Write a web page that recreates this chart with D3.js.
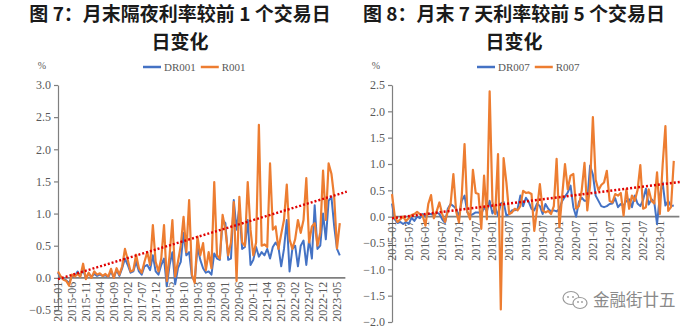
<!DOCTYPE html>
<html><head><meta charset="utf-8">
<script src="https://cdn.jsdelivr.net/npm/d3@7"></script>
<style>
html,body{margin:0;padding:0;background:#fff;}
svg{display:block;}
</style>
</head><body>
<svg id="chart" width="700" height="330"></svg>
<script>
// ---- categories ----
const months = d3.timeMonth.range(new Date(2015,0,1), new Date(2023,6,1)).map(d3.timeFormat("%Y-%m"));

// ---- left chart: overnight ----
const titleLeft = ["图 7：月末隔夜利率较前 1 个交易日", "日变化"];
const DR001 = [0.08,0.00,-0.02,-0.04,-0.08,0.03,0.02,0.10,0.03,0.12,0.00,0.07,0.02,0.06,0.03,0.05,0.03,0.04,0.01,0.10,
  0.00,0.12,0.03,0.15,0.30,0.20,0.08,0.10,0.25,0.10,0.05,0.18,0.20,0.12,0.35,0.10,0.05,0.20,0.30,-0.13,
  0.20,0.40,-0.10,0.15,0.25,0.70,0.35,0.40,0.02,-0.05,0.48,0.28,0.15,0.08,0.10,0.05,0.38,0.30,0.28,0.90,
  0.85,0.28,0.30,1.21,0.75,1.10,0.45,0.48,0.90,0.20,0.28,0.48,0.33,0.40,0.35,0.45,0.30,0.48,0.55,0.48,
  0.18,0.45,0.90,0.10,0.45,0.50,0.18,0.50,0.58,0.20,0.60,0.30,1.13,0.45,0.50,1.00,0.60,1.20,1.26,0.80,
  0.45,0.35];
const R001 = [0.10,0.02,-0.03,-0.05,-0.12,0.05,0.02,0.06,0.02,0.22,-0.02,0.08,0.00,0.10,0.05,0.07,0.03,0.06,0.02,0.14,
  0.00,0.15,0.05,0.18,0.45,0.28,0.10,0.12,0.36,0.15,0.08,0.25,0.40,0.20,0.82,0.25,0.10,0.30,0.82,-0.05,
  0.35,0.90,0.02,0.25,0.50,0.95,0.40,1.21,0.05,-0.08,0.64,0.35,0.54,0.12,0.40,0.15,1.49,0.35,0.30,0.98,
  0.75,0.35,0.55,1.18,-0.05,1.26,0.55,0.50,1.49,0.75,0.35,0.55,2.38,0.50,0.52,0.48,1.78,0.75,0.80,0.45,
  0.68,0.90,1.45,0.60,0.45,0.60,0.90,0.70,0.90,1.55,0.55,0.80,0.85,0.50,0.70,1.67,0.90,1.78,1.62,1.25,
  0.46,0.85];
// trend line (linear, as drawn in the picture): [month index, value] at both ends
const trendLeft = [[0, -0.02], [103.5, 1.34]];
const yTicksLeft = [-0.5,0,0.5,1.0,1.5,2.0,2.5,3.0];
const xTicksLeft = ["2015-01","2015-06","2015-11","2016-04","2016-09","2017-02","2017-07","2017-12","2018-05","2018-10",
  "2019-03","2019-08","2020-01","2020-06","2020-11","2021-04","2021-09","2022-02","2022-07","2022-12","2023-05"];

// ---- right chart: 7-day ----
const titleRight = ["图 8：月末 7 天利率较前 5 个交易日", "日变化"];
const DR007 = [0.25,-0.05,-0.12,-0.10,-0.14,-0.10,-0.14,-0.02,-0.08,0.00,-0.03,0.05,0.00,0.05,0.05,0.03,0.08,0.05,-0.05,-0.12,
  0.15,0.24,0.20,0.15,0.00,0.30,0.40,0.08,0.02,0.05,0.08,0.08,0.05,0.18,0.10,0.30,0.06,0.18,0.02,0.25,
  0.28,0.02,0.05,0.12,0.12,0.14,0.40,0.20,0.36,0.28,0.15,0.12,0.25,0.20,0.05,0.24,0.15,0.10,0.12,0.10,
  0.15,0.30,0.38,0.46,0.59,0.18,0.00,0.28,0.36,0.30,0.30,0.97,0.80,0.40,0.30,0.20,0.18,0.20,0.24,0.25,
  0.35,0.18,0.24,0.21,0.30,0.33,0.18,0.40,0.25,0.20,0.32,0.53,0.23,0.33,0.28,-0.14,0.40,0.65,0.21,0.30,
  0.20,0.21];
const R007 = [0.43,0.00,-0.10,-0.05,0.00,-0.08,-0.03,0.03,0.05,0.09,0.05,0.02,-0.17,0.24,0.41,-0.03,0.10,0.27,0.05,-0.10,
  0.10,0.24,0.81,0.10,-0.11,0.40,1.38,0.10,-0.05,0.89,0.45,0.43,-0.23,0.78,-0.05,2.38,0.28,0.05,1.19,-1.76,
  1.11,0.65,0.05,0.08,0.15,0.12,0.20,0.49,0.45,0.46,0.43,-0.27,0.15,0.62,0.12,0.08,0.11,0.05,0.20,1.10,
  -0.20,0.40,1.00,0.52,0.78,0.81,0.15,0.20,0.50,1.02,0.12,0.60,1.89,0.70,0.50,0.60,0.65,0.87,0.30,0.27,
  0.43,0.40,0.45,0.02,0.52,0.15,0.40,0.30,0.50,0.98,0.15,0.18,0.52,0.30,0.25,0.84,0.05,0.98,1.72,0.11,
  0.18,1.06];
const trendRight = [[0, -0.03], [103.5, 0.66]];
const yTicksRight = [-2.0,-1.5,-1.0,-0.5,0,0.5,1.0,1.5,2.0,2.5];
const xTicksRight = ["2015-01","2015-07","2016-01","2016-07","2017-01","2017-07","2018-01","2018-07","2019-01","2019-07",
  "2020-01","2020-07","2021-01","2021-07","2022-01","2022-07","2023-01"];

const watermark = "金融街廿五";

// ---- drawing ----
const svg = d3.select("#chart");
const BLUE = "#4472C4", ORANGE = "#ED7D31", RED = "#E00000", GREY = "#595959";
const SERIF = "'Liberation Serif','Times New Roman',serif";
const CJK = "'Noto Sans CJK SC','Noto Sans CJK JP',sans-serif";

function drawPanel(cfg) {
  const g = svg.append("g");
  const n = months.length;
  const x = d3.scaleLinear().domain([0, n - 1]).range([cfg.x0, cfg.x1]);
  const y = d3.scaleLinear().domain(cfg.yDomain).range([cfg.yBottom, cfg.yTop]);

  // title
  g.append("g").selectAll("text").data(cfg.title).join("text")
    .attr("x", cfg.titleX).attr("y", (d, i) => 21 + i * 28)
    .attr("text-anchor", "middle")
    .attr("font-family", CJK).attr("font-size", 19).attr("font-weight", 700)
    .attr("fill", "#1a1a1a").text(d => d);

  // % unit
  g.append("text").attr("x", cfg.x0 - 16).attr("y", 69)
    .attr("font-family", SERIF).attr("font-size", 10).attr("fill", GREY)
    .attr("text-anchor", "middle").text("%");

  // y axis
  const ya = g.append("g").attr("transform", `translate(${cfg.x0},0)`)
    .call(d3.axisLeft(y).tickValues(cfg.yTicks).tickSize(4).tickSizeOuter(0).tickFormat(d3.format(".1f")));
  ya.select(".domain").attr("stroke", "#7f7f7f").attr("stroke-width", 1.2);
  ya.selectAll(".tick line").attr("stroke", "#7f7f7f").attr("stroke-width", 1.2);
  ya.selectAll(".tick text").attr("font-family", SERIF).attr("font-size", 12).attr("fill", GREY)
    .text(d => d3.format(".1f")(d).replace("-", "\u2212"));

  // zero line
  g.append("line").attr("x1", cfg.x0).attr("x2", x(n + 1)).attr("y1", y(0)).attr("y2", y(0))
    .attr("stroke", "#7f7f7f").attr("stroke-width", 1.6);

  // x labels
  g.append("g").selectAll("text").data(cfg.xTicks).join("text")
    .attr("transform", d => `translate(${x(months.indexOf(d)) + 4},${y(0) + 4}) rotate(-90)`)
    .attr("text-anchor", "end")
    .attr("font-family", SERIF).attr("font-size", 12).attr("fill", GREY)
    .text(d => d);

  // lines
  const line = d3.line().x((d, i) => x(i)).y(d => y(d));
  g.append("path").datum(cfg.s1).attr("d", line).attr("fill", "none")
    .attr("stroke", BLUE).attr("stroke-width", 2).attr("stroke-linejoin", "round");
  g.append("path").datum(cfg.s2).attr("d", line).attr("fill", "none")
    .attr("stroke", ORANGE).attr("stroke-width", 2.2).attr("stroke-linejoin", "round");

  // linear trend
  const tline = d3.line().x(d => x(d[0])).y(d => y(d[1]));
  g.append("path").datum(cfg.trend).attr("d", tline).attr("fill", "none")
    .attr("stroke", RED).attr("stroke-width", 2.4).attr("stroke-dasharray", "2,2");

  // legend
  const lg = g.append("g").attr("transform", `translate(${cfg.legendX},67)`);
  let off = 0;
  cfg.names.forEach((nm, i) => {
    lg.append("line").attr("x1", off).attr("x2", off + 18).attr("y1", 0).attr("y2", 0)
      .attr("stroke", i ? ORANGE : BLUE).attr("stroke-width", 2.5);
    const t = lg.append("text").attr("x", off + 21).attr("y", 3.5)
      .attr("font-family", SERIF).attr("font-size", 11).attr("fill", GREY).text(nm);
    off += 21 + t.node().getComputedTextLength() + 5;
  });
}

drawPanel({title: titleLeft, titleX: 180, x0: 58, x1: 58 + 101 * 2.79, yDomain: [-0.5, 3.0], yTop: 85, yBottom: 310,
  yTicks: yTicksLeft, xTicks: xTicksLeft, s1: DR001, s2: R001, trend: trendLeft, names: ["DR001", "R001"], legendX: 143});
drawPanel({title: titleRight, titleX: 514, x0: 392, x1: 392 + 101 * 2.79, yDomain: [-2.0, 2.5], yTop: 85, yBottom: 322,
  yTicks: yTicksRight, xTicks: xTicksRight, s1: DR007, s2: R007, trend: trendRight, names: ["DR007", "R007"], legendX: 477});

// watermark
const wm = svg.append("g").attr("transform", "translate(575,300)");
wm.append("ellipse").attr("cx", -4).attr("cy", -2).attr("rx", 8).attr("ry", 6.5)
  .attr("fill", "#fff").attr("stroke", "#9a9a9a").attr("stroke-width", 1.2);
wm.append("ellipse").attr("cx", 5).attr("cy", 3).attr("rx", 7).attr("ry", 5.5)
  .attr("fill", "#fff").attr("stroke", "#9a9a9a").attr("stroke-width", 1.2);
[[-7,-3],[-2,-3],[3,2],[7,2]].forEach(p => wm.append("circle").attr("cx", p[0]).attr("cy", p[1]).attr("r", 0.9).attr("fill", "#9a9a9a"));
svg.append("text").attr("x", 593).attr("y", 306).attr("font-family", CJK).attr("font-size", 16.5)
  .attr("fill", "#8a8a8a").text(watermark);
</script>
</body></html>
